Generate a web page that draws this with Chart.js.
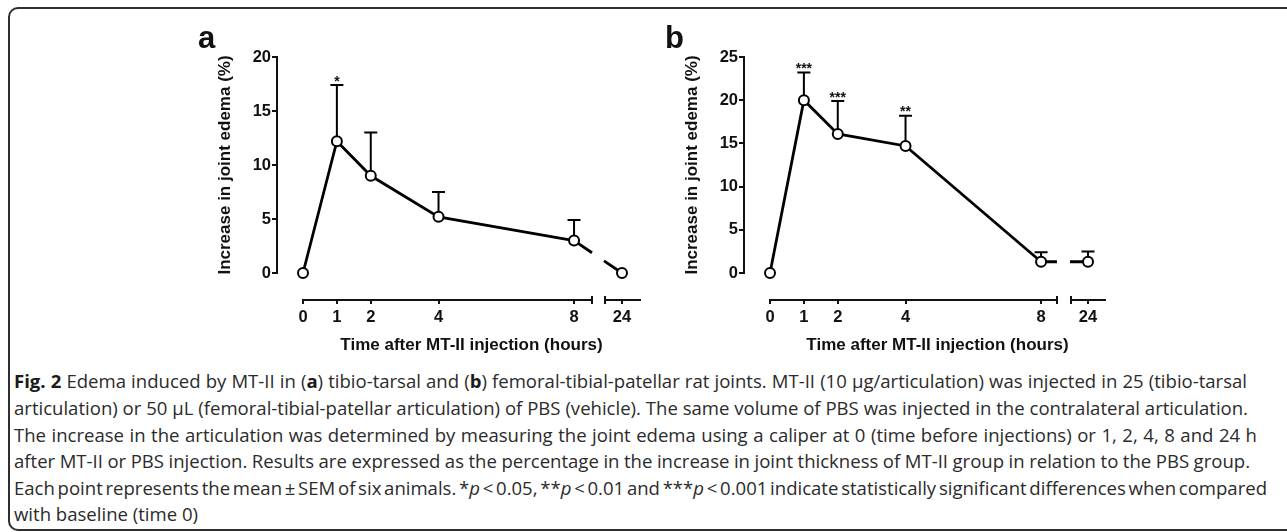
<!DOCTYPE html>
<html>
<head>
<meta charset="utf-8">
<title>Fig. 2</title>
<script src="https://cdn.jsdelivr.net/npm/chart.js@4.4.1/dist/chart.umd.min.js"></script>
<style>
  html, body { margin:0; padding:0; background:#fff; }
  body { width:1287px; height:532px; position:relative; overflow:hidden; }
  #frame { position:absolute; left:8px; top:7px; width:1300px; height:524px; box-sizing:border-box;
           border:2px solid #2e2e2e; border-radius:10px; }
  .panel { position:absolute; top:0; width:480px; height:360px; }
  #panelA { left:170px; }
  #panelB { left:637px; }
  .ln { position:absolute; left:14px; top:0; white-space:nowrap; font-family:'Open Sans', sans-serif;
        color:#2b2b2b; line-height:1; font-size:16px; }
  .ln b { color:#1a1a1a; }
  .bm { display:inline-block; width:0; height:0; vertical-align:baseline; }
</style>
</head>
<body>
<div id="frame"></div>
<canvas id="panelA" class="panel" width="480" height="360"></canvas>
<canvas id="panelB" class="panel" width="480" height="360"></canvas>
<div id="caption"></div>
<script>
// ---------------- data ----------------
const hours      = [0, 1, 2, 4, 8, 24];
const xTicksMain = [0, 1, 2, 4, 8];
const xTicksLate = [24];

const edemaA = [0, 12.2, 9.0, 5.2, 3.0, 0];
const semA   = [0, 5.2, 4.0, 2.3, 1.9, 0];
const sigA   = ['', '*', '', '', '', ''];
const yTicksA = [0, 5, 10, 15, 20];

const edemaB = [0, 20.0, 16.1, 14.7, 1.3, 1.3];
const semB   = [0, 3.2, 3.8, 3.5, 1.1, 1.2];
const sigB   = ['', '***', '***', '**', '', ''];
const yTicksB = [0, 5, 10, 15, 20, 25];

const xTitle = 'Time after MT-II injection (hours)';
const yTitle = 'Increase in joint edema (%)';

const captionLines = [
  '<b>Fig. 2</b> Edema induced by MT-II in (<b>a</b>) tibio-tarsal and (<b>b</b>) femoral-tibial-patellar rat joints. MT-II (10 µg/articulation) was injected in 25 (tibio-tarsal',
  'articulation) or 50 µL (femoral-tibial-patellar articulation) of PBS (vehicle). The same volume of PBS was injected in the contralateral articulation.',
  'The increase in the articulation was determined by measuring the joint edema using a caliper at 0 (time before injections) or 1, 2, 4, 8 and 24 h',
  'after MT-II or PBS injection. Results are expressed as the percentage in the increase in joint thickness of MT-II group in relation to the PBS group.',
  'Each point represents the mean ± SEM of six animals. *<i>p</i> &lt; 0.05, **<i>p</i> &lt; 0.01 and ***<i>p</i> &lt; 0.001 indicate statistically significant differences when compared',
  'with baseline (time 0)'
];

// ---------------- caption layout ----------------
(function () {
  const rights = [1247, 1248, 1257, 1250, 1267];
  const baselines = [388, 415, 442, 468, 495, 521];
  const left = 14;
  const cap = document.getElementById('caption');
  const els = captionLines.map(html => {
    const d = document.createElement('div');
    d.className = 'ln';
    d.innerHTML = html + '<span class="bm"></span>';
    cap.appendChild(d);
    return d;
  });
  const ratios = [];
  els.forEach((d, i) => {
    if (i >= rights.length) return;
    d.style.fontSize = '100px';
    const w = d.getBoundingClientRect().width;
    ratios.push((rights[i] - left) / w * 100);
  });
  const sorted = ratios.slice().sort((a, b) => a - b);
  const fs = sorted[Math.floor(sorted.length / 2)];
  els.forEach((d, i) => {
    d.style.fontSize = fs + 'px';
    if (i < rights.length) {
      const w = d.getBoundingClientRect().width;
      const spaces = (d.textContent.match(/ /g) || []).length;
      if (spaces) d.style.wordSpacing = ((rights[i] - left - w) / spaces) + 'px';
    }
    d.style.top = '0px';
    const b = d.querySelector('.bm').getBoundingClientRect().top;
    d.style.top = (baselines[i] - b) + 'px';
  });
})();

// ---------------- charts ----------------
Chart.defaults.font.family = "'Liberation Sans', Arial, sans-serif";
Chart.defaults.color = '#111';

const INK = '#111';
const tickFont = { family: "'Liberation Sans', Arial, sans-serif", weight: 'bold', size: 16.5 };
const X_BAND = 40;   // height of the bottom axis band
const Y_BAND = 62;   // width of the left axis band

function buildPanel(canvasId, p) {
  const idx = hours.map((h, i) => i);
  const early = idx.filter(i => xTicksMain.includes(hours[i]));
  const late = idx.filter(i => xTicksLate.includes(hours[i]));
  const axisOf = i => (late.includes(i) ? 'x24' : 'x');

  const decor = {
    id: 'decor_' + canvasId,
    beforeDatasetsDraw(chart) {
      const { ctx } = chart;
      const y = chart.scales.y;
      ctx.save();
      ctx.strokeStyle = '#000';
      ctx.lineCap = 'butt';
      // error bars (upper SEM only)
      ctx.lineWidth = 2;
      idx.forEach(i => {
        if (!p.sem[i]) return;
        const px = chart.scales[axisOf(i)].getPixelForValue(hours[i]);
        const py0 = y.getPixelForValue(p.values[i]);
        const py1 = y.getPixelForValue(p.values[i] + p.sem[i]);
        ctx.beginPath();
        ctx.moveTo(px, py0); ctx.lineTo(px, py1);
        ctx.moveTo(px - 6.5, py1); ctx.lineTo(px + 6.5, py1);
        ctx.stroke();
      });
      // connector across the axis break
      const iE = early[early.length - 1], iL = late[0];
      const xs = chart.scales.x, xl = chart.scales.x24;
      const x0 = xs.getPixelForValue(hours[iE]), y0 = y.getPixelForValue(p.values[iE]);
      const x1 = xl.getPixelForValue(hours[iL]), y1 = y.getPixelForValue(p.values[iL]);
      const f = t => y0 + (y1 - y0) * (t - x0) / (x1 - x0);
      const b1 = xs.right, b2 = xl.left - 1;
      ctx.lineWidth = 2.8;
      ctx.beginPath();
      ctx.moveTo(x0, y0); ctx.lineTo(b1, f(b1));
      ctx.moveTo(b2, f(b2)); ctx.lineTo(x1, y1);
      ctx.stroke();
      ctx.restore();
    },
    afterDatasetsDraw(chart) {
      const { ctx } = chart;
      const y = chart.scales.y;
      ctx.save();
      ctx.fillStyle = INK;
      ctx.font = "bold 14px 'Liberation Sans', Arial, sans-serif";
      ctx.textAlign = 'center';
      ctx.textBaseline = 'alphabetic';
      idx.forEach(i => {
        if (!p.sig[i]) return;
        const px = chart.scales[axisOf(i)].getPixelForValue(hours[i]);
        const py = y.getPixelForValue(p.values[i] + p.sem[i]);
        ctx.fillText(p.sig[i], px, py + 0.5);
      });
      ctx.restore();
    },
    afterDraw(chart) {
      const { ctx, chartArea } = chart;
      const xs = chart.scales.x, xl = chart.scales.x24;
      ctx.save();
      // break caps on the x axis
      ctx.strokeStyle = INK;
      ctx.lineWidth = 2;
      ctx.beginPath();
      [xs.right, xl.left].forEach(bx => { ctx.moveTo(bx, xs.top - 4); ctx.lineTo(bx, xs.top + 4); });
      ctx.stroke();
      // x axis title centred on the whole broken axis
      ctx.fillStyle = INK;
      ctx.font = "bold 17px 'Liberation Sans', Arial, sans-serif";
      ctx.textAlign = 'center';
      ctx.textBaseline = 'middle';
      ctx.fillText(xTitle, (xs.left + xl.right) / 2, xs.top + 45);
      // panel letter
      ctx.font = "bold 31px 'Liberation Sans', Arial, sans-serif";
      ctx.textAlign = 'left';
      ctx.textBaseline = 'alphabetic';
      ctx.fillText(p.letter, chartArea.left - 79, 48);
      ctx.restore();
    }
  };

  const pointStyle = {
    borderColor: '#000', borderWidth: 2.8,
    pointRadius: 5, pointHoverRadius: 5, pointBorderWidth: 2,
    pointBackgroundColor: '#fff', pointBorderColor: '#000',
    clip: false, tension: 0
  };

  const L = p.layout;
  const fitX = s => { s.height = X_BAND; };
  const fitY = s => { s.width = Y_BAND; };
  const xCommon = {
    type: 'linear', axis: 'x', position: 'bottom', stack: 'xs',
    afterFit: fitX,
    grid: { drawOnChartArea: false, drawTicks: true, tickLength: 4, lineWidth: 2, tickWidth: 2, tickColor: INK },
    border: { display: true, width: 2, color: INK },
    ticks: { font: tickFont, color: INK, padding: 4, maxRotation: 0, autoSkip: false }
  };

  new Chart(document.getElementById(canvasId), {
    type: 'scatter',
    data: {
      datasets: [
        Object.assign({ data: early.map(i => ({ x: hours[i], y: p.values[i] })), xAxisID: 'x', yAxisID: 'y', showLine: true }, pointStyle),
        Object.assign({ data: late.map(i => ({ x: hours[i], y: p.values[i] })), xAxisID: 'x24', yAxisID: 'y', showLine: false }, pointStyle)
      ]
    },
    options: {
      responsive: false,
      animation: false,
      devicePixelRatio: 1,
      events: [],
      layout: { padding: { top: 57, left: 45, right: L.padRight, bottom: 20 } },
      plugins: { legend: { display: false }, tooltip: { enabled: false } },
      scales: {
        yGap: { type: 'linear', axis: 'y', position: 'left', stack: 'ys', stackWeight: 27, display: false, afterFit: fitY },
        y: {
          type: 'linear', axis: 'y', position: 'left', stack: 'ys', stackWeight: 216,
          min: 0, max: p.yTicks[p.yTicks.length - 1],
          afterBuildTicks: s => { s.ticks = p.yTicks.map(v => ({ value: v })); },
          afterFit: fitY,
          grid: { drawOnChartArea: false, drawTicks: true, tickLength: 5, lineWidth: 2, tickWidth: 2, tickColor: INK },
          border: { display: true, width: 2, color: INK },
          ticks: { font: tickFont, color: INK, padding: 1 },
          title: { display: true, text: yTitle, color: INK, padding: { top: 0, bottom: 0 },
                   font: { family: "'Liberation Sans', Arial, sans-serif", weight: 'bold', size: 17 } }
        },
        xGapL: { type: 'linear', axis: 'x', position: 'bottom', stack: 'xs', stackWeight: L.gapL, display: false, afterFit: fitX },
        x: Object.assign({}, xCommon, {
          stackWeight: L.main, min: 0, max: L.mainMax,
          afterBuildTicks: s => { s.ticks = xTicksMain.map(v => ({ value: v })); }
        }),
        xGapM: { type: 'linear', axis: 'x', position: 'bottom', stack: 'xs', stackWeight: L.gapM, display: false, afterFit: fitX },
        x24: Object.assign({}, xCommon, {
          stackWeight: L.late, min: L.lateMin, max: L.lateMax,
          afterBuildTicks: s => { s.ticks = xTicksLate.map(v => ({ value: v })); }
        })
      }
    },
    plugins: [decor]
  });
}

buildPanel('panelA', {
  values: edemaA, sem: semA, sig: sigA, yTicks: yTicksA, letter: 'a',
  layout: { gapL: 26, main: 289, gapM: 13, late: 35, mainMax: 8.53, lateMin: 23.5, lateMax: 24.53, padRight: 10 }
});
buildPanel('panelB', {
  values: edemaB, sem: semB, sig: sigB, yTicks: yTicksB, letter: 'b',
  layout: { gapL: 26, main: 287, gapM: 14, late: 34, mainMax: 8.47, lateMin: 23.5, lateMax: 24.5, padRight: 12 }
});
</script>
</body>
</html>
